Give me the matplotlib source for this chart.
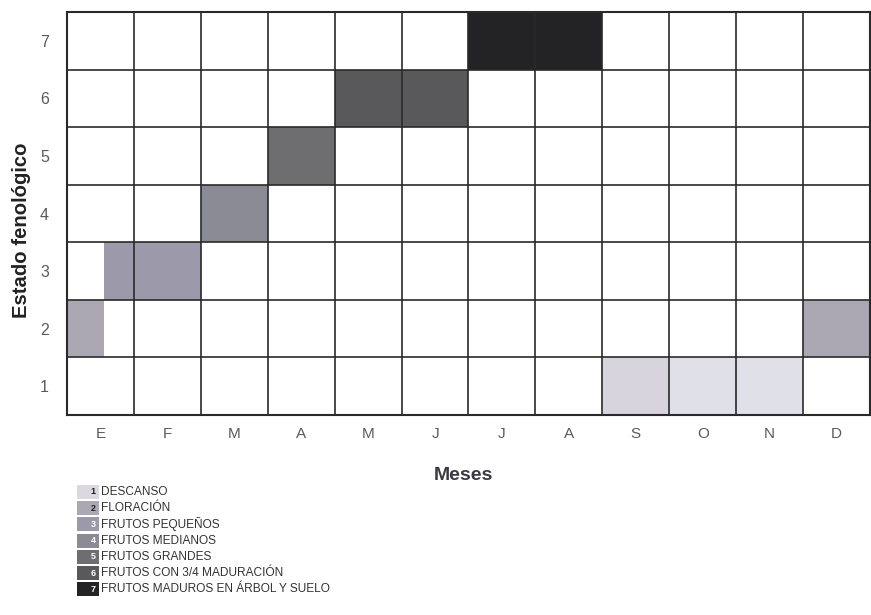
import matplotlib
matplotlib.use("Agg")
import matplotlib.pyplot as plt
from matplotlib.patches import Rectangle

plt.rcParams['font.family'] = ['Liberation Sans', 'DejaVu Sans']

months = ['E', 'F', 'M', 'A', 'M', 'J', 'J', 'A', 'S', 'O', 'N', 'D']
states = [1, 2, 3, 4, 5, 6, 7]
legend_labels = ['DESCANSO', 'FLORACIÓN', 'FRUTOS PEQUEÑOS', 'FRUTOS MEDIANOS',
                 'FRUTOS GRANDES', 'FRUTOS CON 3/4 MADURACIÓN',
                 'FRUTOS MADUROS EN ÁRBOL Y SUELO']
# periods (state, start month position, end month position)
period_state = [1, 1, 2, 2, 3, 4, 5, 6, 7]
period_start = [8, 9, 0, 11, 0.55, 2, 3, 4, 6]
period_end = [9, 11, 0.55, 12, 2, 3, 4, 6, 8]

state_colors = {1: '#dcd8e2', 2: '#aba8b4', 3: '#9c9aaa', 4: '#8a8b94',
                5: '#6e6e70', 6: '#59595c', 7: '#232325'}
period_colors = ['#d8d4de', '#dfe0e8', '#aba8b4', '#aba8b4', '#9c9aaa',
                 '#8a8b94', '#6e6e70', '#59595c', '#232325']

fig = plt.figure(figsize=(8.71, 6.15), dpi=100)
ax = fig.add_axes([67/871, 1-415/615, 803/871, 403/615])

for s, a, b, c in zip(period_state, period_start, period_end, period_colors):
    ax.barh(s, b - a, left=a, height=1.0, color=c, edgecolor='none', zorder=1)

ax.set_xlim(0, 12)
ax.set_ylim(0.5, 7.5)
ax.set_xticks([i + 0.5 for i in range(len(months))])
ax.set_xticklabels(months)
ax.set_yticks(states)
ax.set_yticklabels([str(s) for s in states])
ax.set_xticks(range(13), minor=True)
ax.set_yticks([s + 0.5 for s in range(0, 8)], minor=True)
ax.grid(which='minor', color='#2a2a2a', linewidth=1.2, zorder=2)
ax.grid(which='major', visible=False)
ax.tick_params(which='both', length=0)
ax.tick_params(axis='x', pad=8.5, labelsize=11, labelcolor='#5a5a5a')
ax.tick_params(axis='y', pad=13, labelsize=11.5, labelcolor='#5a5a5a')
for sp in ax.spines.values():
    sp.set_color('#2a2a2a')
    sp.set_linewidth(1.5)
ax.set_axisbelow(False)

fig.text(22/871, 1-230/615, 'Estado fenológico', fontsize=14.6, fontweight='bold',
         rotation=90, ha='center', va='center', color='#222222')
fig.text(463/871, 1-476/615, 'Meses', fontsize=14, fontweight='bold',
         ha='center', va='center', color='#3a3a44')

# legend
y0 = 492
dy = 16.2
for i, (lab, s) in enumerate(zip(legend_labels, states)):
    yc = y0 + i * dy
    fig.patches.append(Rectangle((77/871, 1-(yc+7)/615), 22/871, 14/615,
                                 transform=fig.transFigure,
                                 facecolor=state_colors[s], edgecolor='none'))
    fig.text(93/871, 1-yc/615, str(s), fontsize=6.5, fontweight='bold',
             color='#222222' if s <= 2 else 'white', ha='center', va='center')
    fig.text(101/871, 1-yc/615, lab, fontsize=8.6, color='#333333',
             ha='left', va='center')

fig.savefig('out.png', dpi=100)
